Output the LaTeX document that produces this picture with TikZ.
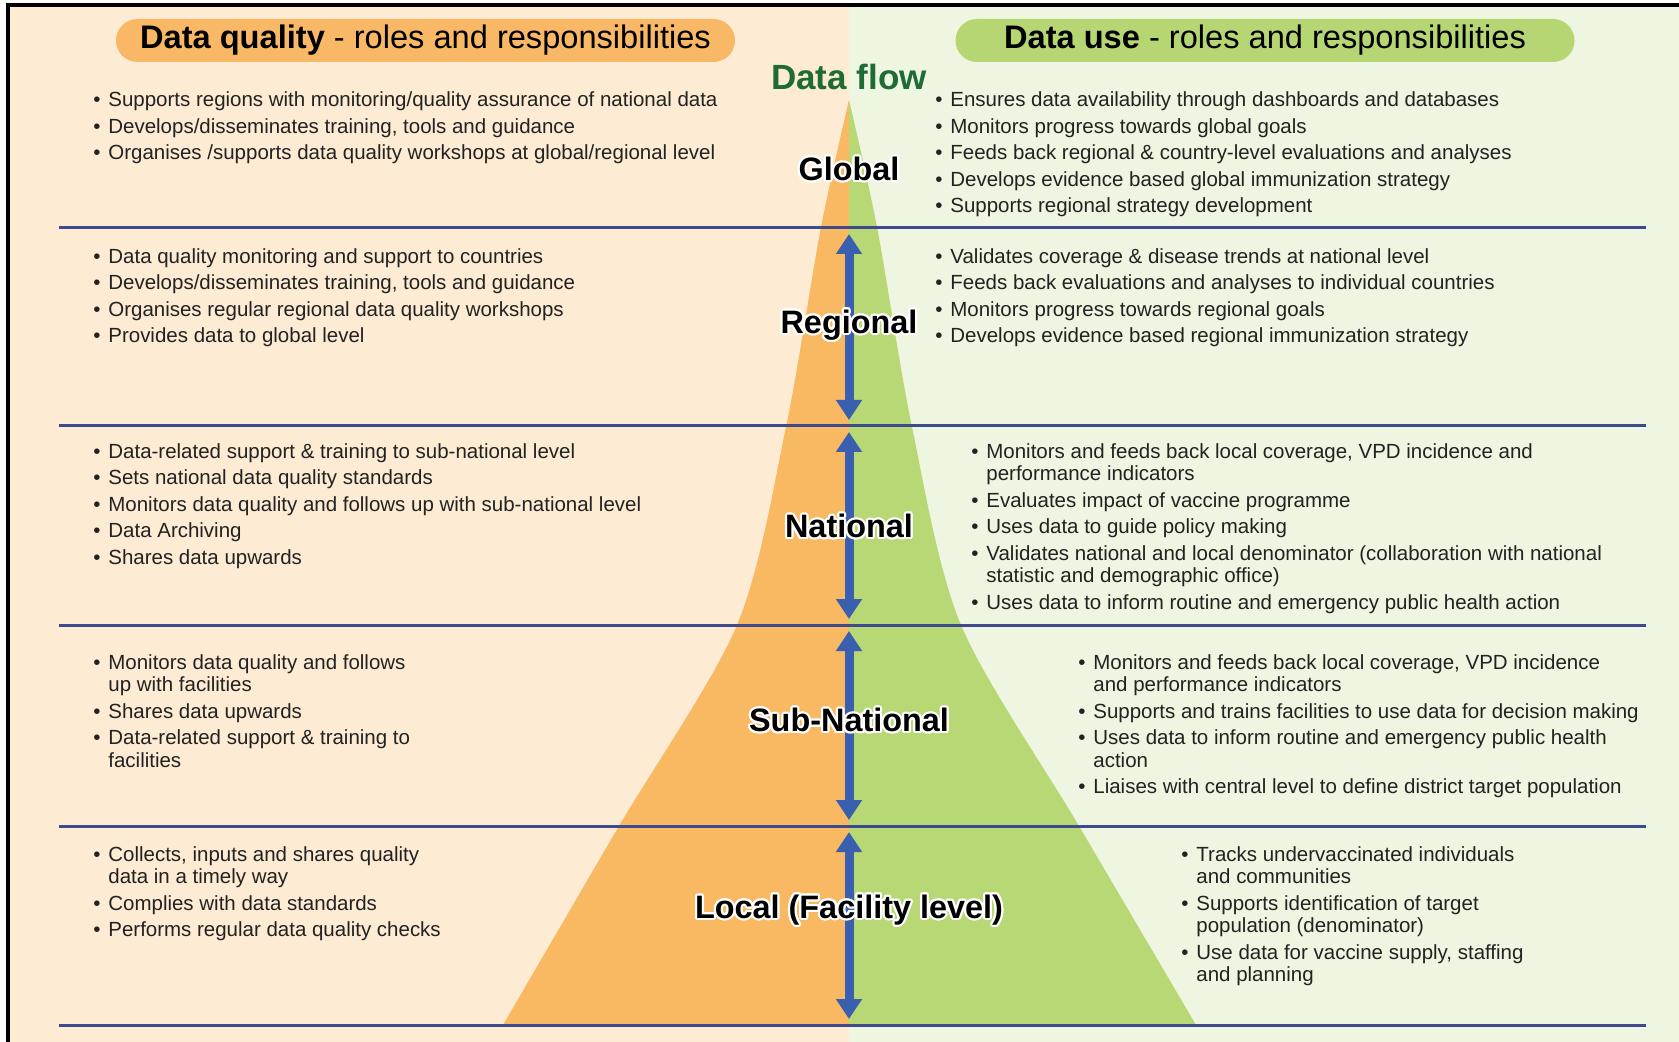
\documentclass[tikz,border=0pt]{standalone}
\usepackage{fontspec}
\setmainfont{Liberation Sans}
\usetikzlibrary{arrows.meta}

\definecolor{peach}{HTML}{FDEBD4}
\definecolor{mint}{HTML}{EEF5E0}
\definecolor{pyrorange}{HTML}{F9B862}
\definecolor{pyrgreen}{HTML}{B7D874}
\definecolor{pillorange}{HTML}{F9B865}
\definecolor{pillgreen}{HTML}{B5D673}
\definecolor{rulecol}{HTML}{3D4A8E}
\definecolor{flowblue}{HTML}{3A5FAF}
\definecolor{flowgreen}{HTML}{1E6B36}
\definecolor{ink}{HTML}{222222}

\newcommand{\itm}{\makebox[7.5pt][l]{\textbullet}}
\newcommand{\cnt}{\hspace*{7.5pt}}
\newcommand{\levelname}[3]{%
  \foreach \a in {0,22.5,...,337.5}
    \node[lvl, text=white, shift={(\a:1.1pt)}] at (#2) {#3};
  \node[lvl] (#1) at (#2) {#3};}

\begin{document}
\begin{tikzpicture}[x=0.5pt, y=-0.5pt,
    pill/.style={rounded corners=10.75pt, minimum width=309.5pt, minimum height=21.5pt, inner sep=0pt, font=\fontsize{16.3}{18}\selectfont},
    lst/.style={anchor=north west, inner sep=0pt, align=left, text=ink, font=\fontsize{10.24}{11.25}\selectfont},
    lvl/.style={inner sep=0pt, font=\fontsize{16.2}{18}\selectfont\bfseries},
    band/.style={draw=rulecol, line width=1.5pt},
    flowarrow/.style={draw=flowblue, line width=4.5pt, {Triangle[width=12.5pt,length=10pt]}-{Triangle[width=12.5pt,length=10pt]}}]

    \useasboundingbox (0,0) rectangle (1679,1042);
    \fill[peach] (8,5) rectangle (849,1042);
    \fill[mint] (849,5) rectangle (1679,1042);
    \draw[line width=2pt] (8,1042) -- (8,5) -- (1679,5);

    \fill[pyrorange] plot[smooth] coordinates {(849,100) (821,227) (786,427) (737,625) (619,826) (503,1025)} -- (849,1025) -- cycle;
    \fill[pyrgreen] plot[smooth] coordinates {(849,100) (877,227) (912,427) (961,625) (1079,826) (1196,1025)} -- (849,1025) -- cycle;

    \foreach \t/\b [count=\i] in {228/426, 426/625, 625/826, 826/1025} {
        \coordinate (up\i) at (849,\t+6);
        \coordinate (dn\i) at (849,\b-6);
        \draw[flowarrow] (up\i) -- (dn\i);
    }

    \foreach \y in {228,426,625,826,1025}
        \draw[band] (59,\y) -- (1646,\y);

    \node[pill, fill=pillorange] (qhead) at (425.5,40.5) {\textbf{Data quality} - roles and responsibilities};
    \node[pill, fill=pillgreen] (uhead) at (1265,40.5) {\textbf{Data use} - roles and responsibilities};
    \node[inner sep=0pt, text=flowgreen, font=\fontsize{17.5}{20}\selectfont\bfseries] (flow) at (849,77) {Data flow};

    \node[lst] (gq) at (93,91.5) {\itm Supports regions with monitoring/quality assurance of national data\\[2pt]
        \itm Develops/disseminates training, tools and guidance\\[2pt]
        \itm Organises /supports data quality workshops at global/regional level};
    \node[lst] (gu) at (935,91.5) {\itm Ensures data availability through dashboards and databases\\[2pt]
        \itm Monitors progress towards global goals\\[2pt]
        \itm Feeds back regional \& country-level evaluations and analyses\\[2pt]
        \itm Develops evidence based global immunization strategy\\[2pt]
        \itm Supports regional strategy development};

    \node[lst] (rq) at (93,248) {\itm Data quality monitoring and support to countries\\[2pt]
        \itm Develops/disseminates training, tools and guidance\\[2pt]
        \itm Organises regular regional data quality workshops\\[2pt]
        \itm Provides data to global level};
    \node[lst] (ru) at (935,248) {\itm Validates coverage \& disease trends at national level\\[2pt]
        \itm Feeds back evaluations and analyses to individual countries\\[2pt]
        \itm Monitors progress towards regional goals\\[2pt]
        \itm Develops evidence based regional immunization strategy};

    \node[lst] (nq) at (93,443) {\itm Data-related support \& training to sub-national level\\[2pt]
        \itm Sets national data quality standards\\[2pt]
        \itm Monitors data quality and follows up with sub-national level\\[2pt]
        \itm Data Archiving\\[2pt]
        \itm Shares data upwards};
    \node[lst] (nu) at (971,443) {\itm Monitors and feeds back local coverage, VPD incidence and\\
        \cnt performance indicators\\[2pt]
        \itm Evaluates impact of vaccine programme\\[2pt]
        \itm Uses data to guide policy making\\[2pt]
        \itm Validates national and local denominator (collaboration with national\\
        \cnt statistic and demographic office)\\[2pt]
        \itm Uses data to inform routine and emergency public health action};

    \node[lst] (sq) at (93,654) {\itm Monitors data quality and follows\\
        \cnt up with facilities\\[2pt]
        \itm Shares data upwards\\[2pt]
        \itm Data-related support \& training to\\
        \cnt facilities};
    \node[lst] (su) at (1078,654) {\itm Monitors and feeds back local coverage, VPD incidence\\
        \cnt and performance indicators\\[2pt]
        \itm Supports and trains facilities to use data for decision making\\[2pt]
        \itm Uses data to inform routine and emergency public health\\
        \cnt action\\[2pt]
        \itm Liaises with central level to define district target population};

    \node[lst] (lq) at (93,846) {\itm Collects, inputs and shares quality\\
        \cnt data in a timely way\\[2pt]
        \itm Complies with data standards\\[2pt]
        \itm Performs regular data quality checks};
    \node[lst] (lu) at (1181,846) {\itm Tracks undervaccinated individuals\\
        \cnt and communities\\[2pt]
        \itm Supports identification of target\\
        \cnt population (denominator)\\[2pt]
        \itm Use data for vaccine supply, staffing\\
        \cnt and planning};

    \levelname{glob}{849,169}{Global}
    \levelname{reg}{849,325}{Regional}
    \levelname{nat}{849,526}{National}
    \levelname{sub}{849,720}{Sub-National}
    \levelname{loc}{849,910}{Local (Facility level)}
\end{tikzpicture}
\end{document}
